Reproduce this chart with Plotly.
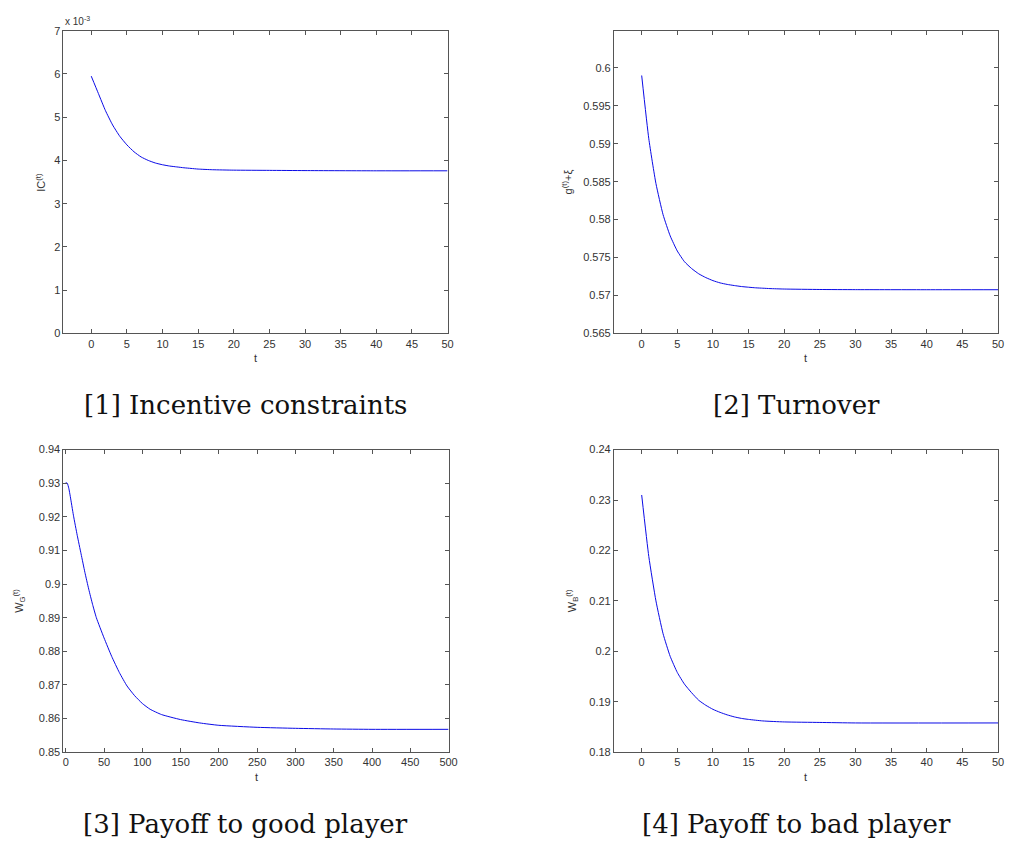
import plotly.graph_objects as go

# the page body has an 8px margin, so the figure is drawn 8px smaller on each side
OFF = 8
W, H = 1016 - 2 * OFF, 848 - 2 * OFF

# ---- data ----
t_ic = [0, 1, 2, 3, 4, 5, 6, 7, 8, 9, 10, 11, 12, 13, 14, 15, 17, 20, 25, 30, 40, 50]
ic = [5.95, 5.55, 5.15, 4.82, 4.56, 4.36, 4.20, 4.08, 4.00, 3.94, 3.90, 3.87, 3.85, 3.83,
      3.815, 3.80, 3.785, 3.775, 3.77, 3.765, 3.76, 3.76]
ic = [v * 1e-3 for v in ic]

t_to = [0, 1, 2, 3, 4, 5, 6, 7, 8, 9, 10, 11, 12, 13, 14, 15, 16, 17, 18, 20, 25, 30, 40, 50]
turnover = [0.59900, 0.59065, 0.58475, 0.58065, 0.57785, 0.57585, 0.57445, 0.57355, 0.57285,
            0.57235, 0.57195, 0.57165, 0.57145, 0.57130, 0.57117, 0.57108, 0.57100, 0.57095,
            0.57090, 0.57084, 0.57078, 0.57076, 0.57075, 0.57075]

t_wg = [0, 2, 4, 6, 10, 15, 20, 25, 30, 35, 40, 50, 60, 70, 80, 90, 100, 110, 125, 150,
        175, 200, 250, 300, 350, 400, 500]
wg = [0.9302, 0.9300, 0.9285, 0.9260, 0.9205, 0.9145, 0.9090, 0.9035, 0.8985, 0.8940,
      0.8900, 0.8840, 0.8785, 0.8737, 0.8697, 0.8668, 0.8645, 0.8628, 0.8612, 0.8597,
      0.8587, 0.8580, 0.8574, 0.8571, 0.8569, 0.8568, 0.8568]

t_wb = [0, 1, 2, 3, 4, 5, 6, 7, 8, 9, 10, 11, 12, 13, 14, 15, 17, 20, 25, 30, 50]
wb = [0.2310, 0.2188, 0.2100, 0.2035, 0.1990, 0.1958, 0.1935, 0.1918, 0.1903, 0.1893,
      0.1885, 0.1879, 0.1874, 0.1870, 0.1867, 0.1865, 0.1862, 0.1860, 0.1859, 0.1858, 0.1858]

ticks_50 = [0, 5, 10, 15, 20, 25, 30, 35, 40, 45, 50]
ticks_500 = [0, 50, 100, 150, 200, 250, 300, 350, 400, 450, 500]
ic_ticks = [0, 1e-3, 2e-3, 3e-3, 4e-3, 5e-3, 6e-3, 7e-3]
ic_ticktext = ["0", "1", "2", "3", "4", "5", "6", "7"]
to_ticks = [0.565, 0.57, 0.575, 0.58, 0.585, 0.59, 0.595, 0.6]
to_ticktext = ["0.565", "0.57", "0.575", "0.58", "0.585", "0.59", "0.595", "0.6"]
wg_ticks = [0.85, 0.86, 0.87, 0.88, 0.89, 0.9, 0.91, 0.92, 0.93, 0.94]
wb_ticks = [0.18, 0.19, 0.2, 0.21, 0.22, 0.23, 0.24]

captions = ["[1] Incentive constraints", "[2] Turnover",
            "[3] Payoff to good player", "[4] Payoff to bad player"]
ylabels = ["IC<sup>(t)</sup>", "g<sup>(t)</sup>+ξ",
           "W<sub>G</sub><sup>(t)</sup>", "W<sub>B</sub><sup>(t)</sup>"]

# ---- layout geometry (window pixels) ----
boxes = [(63, 451, 25, 332), (619, 1007, 25, 332),
         (63, 452, 450, 757), (619, 1007, 450, 757)]

def px(x):
    return (x - OFF) / W

def py(y):
    return 1 - (y - OFF) / H

fig = go.Figure()
series = [(t_ic, ic), (t_to, turnover), (t_wg, wg), (t_wb, wb)]
for i, (xs, ys) in enumerate(series):
    sfx = "" if i == 0 else str(i + 1)
    fig.add_trace(go.Scatter(x=xs, y=ys, mode="lines",
                             line=dict(color="#0a0ae6", width=1, shape="spline", smoothing=0.5),
                             xaxis="x" + sfx, yaxis="y" + sfx, showlegend=False, hoverinfo="skip"))

tickfont = dict(family="Liberation Sans, Arial", size=11, color="#333333")
ax_common = dict(showline=True, linecolor="#555555", linewidth=1, mirror="ticks",
                 ticks="inside", ticklen=4, tickcolor="#555555", showgrid=False, zeroline=False,
                 tickfont=tickfont)

xranges = [[-3.9, 50], [-3.9, 50], [-3, 500], [-3.9, 50]]
xtickv = [ticks_50, ticks_50, ticks_500, ticks_50]
yranges = [[0, 7e-3], [0.565, 0.6049], [0.85, 0.94], [0.18, 0.24]]
ytickv = [ic_ticks, to_ticks, wg_ticks, wb_ticks]
ytickt = [ic_ticktext, to_ticktext, None, None]

layout = {}
for i, (x0, x1, y0, y1) in enumerate(boxes):
    sfx = "" if i == 0 else str(i + 1)
    xa = dict(ax_common, domain=[px(x0), px(x1)], range=xranges[i], tickvals=xtickv[i],
              anchor="y" + sfx)
    ya = dict(ax_common, domain=[py(y1), py(y0)], range=yranges[i], tickvals=ytickv[i],
              anchor="x" + sfx)
    if ytickt[i] is not None:
        ya["ticktext"] = ytickt[i]
    layout["xaxis" + sfx] = xa
    layout["yaxis" + sfx] = ya

fig.update_layout(**layout)

ann = []
ylab_x = [40, 572, 18, 577]
cap_x = [247, 803, 247, 803]
for i, (x0, x1, y0, y1) in enumerate(boxes):
    ann.append(dict(x=px((x0 + x1) / 2), y=py(y1 + 25), xref="paper", yref="paper",
                    xanchor="center", yanchor="middle",
                    text="t", showarrow=False, font=tickfont))
    ann.append(dict(x=px(ylab_x[i]), y=py((y0 + y1) / 2), xref="paper", yref="paper",
                    xanchor="center", yanchor="middle",
                    text=ylabels[i], textangle=-90, showarrow=False, font=tickfont))
    ann.append(dict(x=px(cap_x[i]), y=py(y1 + 73), xref="paper", yref="paper",
                    xanchor="center", yanchor="middle",
                    text=captions[i], showarrow=False,
                    font=dict(family="DejaVu Serif", size=26, color="#111111")))

ann.append(dict(x=px(63), y=py(15), xref="paper", yref="paper", xanchor="left", yanchor="middle",
                text="x 10<sup>-3</sup>", showarrow=False,
                font=dict(family="Liberation Sans, Arial", size=10, color="#333333")))

fig.update_layout(annotations=ann, width=W, height=H,
                  margin=dict(l=0, r=0, t=0, b=0),
                  paper_bgcolor="white", plot_bgcolor="white")

fig.write_html("out.html")
